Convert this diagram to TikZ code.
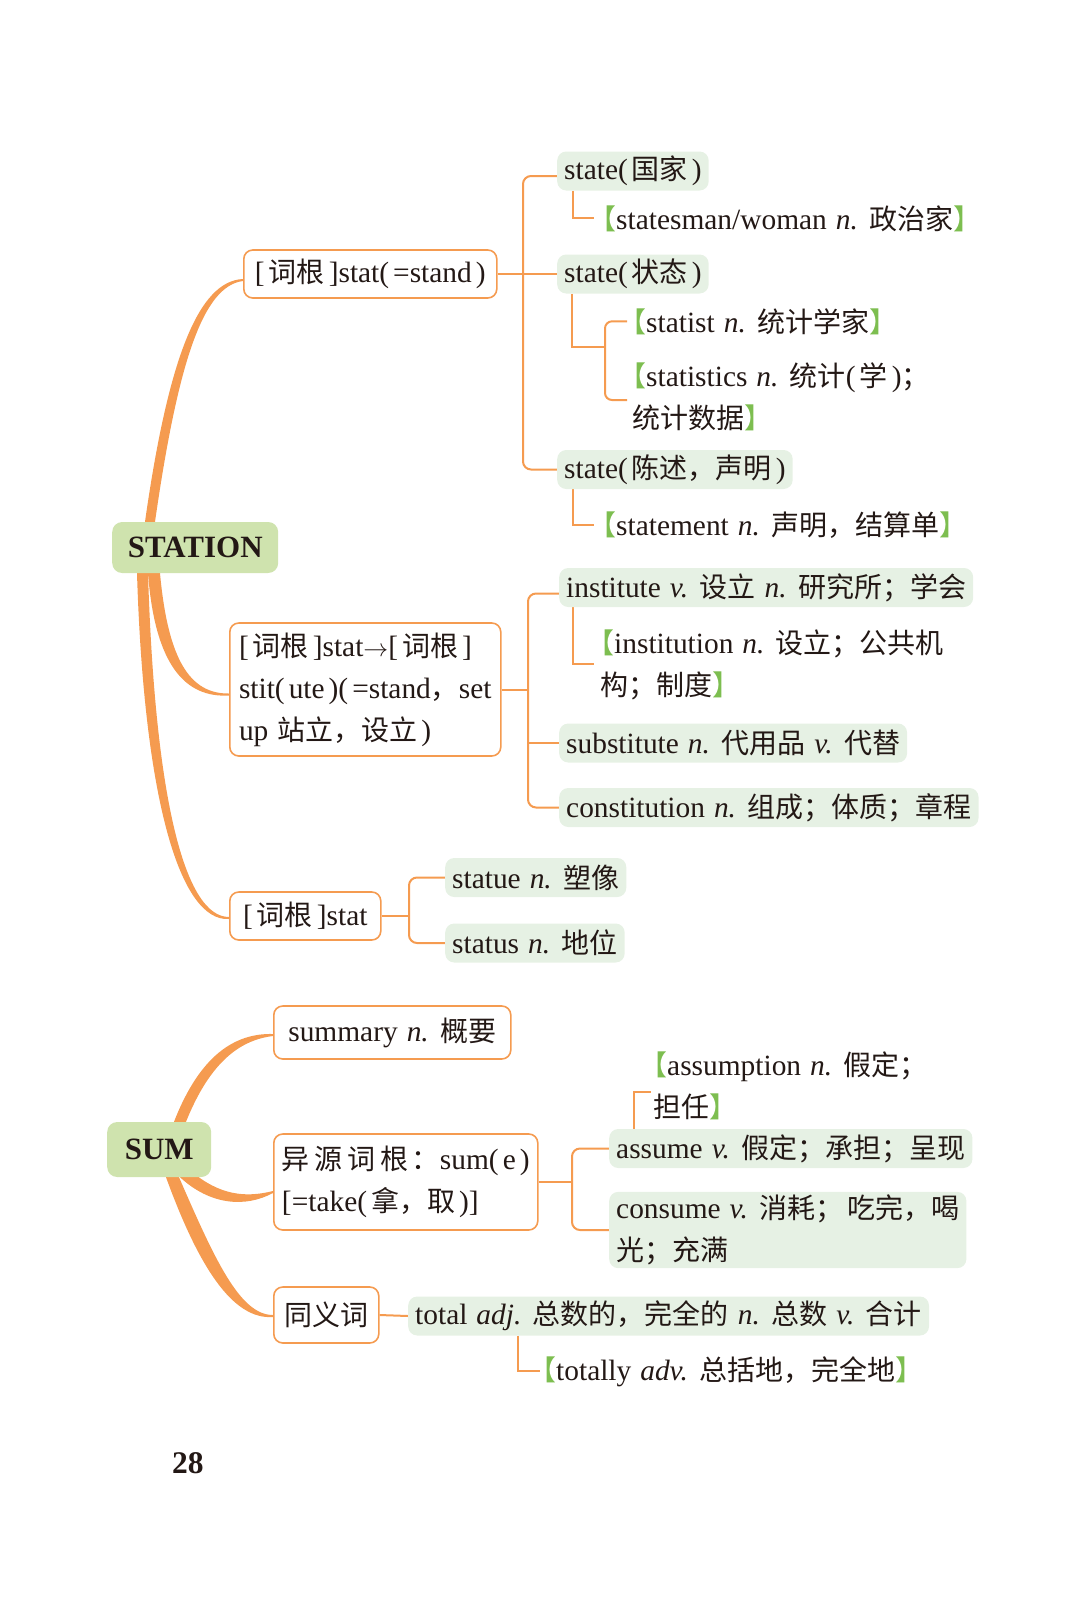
\documentclass[tikz,border=0pt]{standalone}
\usepackage{fontspec}
\setmainfont{Liberation Serif}[Scale=1.05]
\newfontfamily\zhfont{Noto Sans CJK SC}
\usetikzlibrary{backgrounds}

\definecolor{lineorange}{RGB}{245,155,80}
\definecolor{rootgreen}{RGB}{207,227,174}
\definecolor{leafgreen}{RGB}{230,241,228}
\definecolor{brgreen}{RGB}{125,190,80}
\definecolor{inkdark}{RGB}{35,24,21}

\newcommand\zh[1]{{\zhfont #1}}
\newcommand\zlp{(\hspace{4pt}}
\newcommand\zrp{\hspace{4pt})}
\newcommand\glb{\textcolor{brgreen}{\zh{\kern-.5em【}}}
\newcommand\grb{\textcolor{brgreen}{\zh{】}}}
\newcommand\bodyfont{\fontsize{28}{42}\selectfont\spaceskip=9pt plus 2pt minus 1pt}
\newcommand\rootfont{\bfseries\fontsize{29.5}{30}\selectfont}

\tikzset{
  rootbox/.style={fill=rootgreen, rounded corners=10pt, inner sep=0pt, font=\rootfont, anchor=west},
  wordbox/.style={draw=lineorange, line width=1.6pt, fill=white, rounded corners=9pt, inner xsep=7pt, anchor=west, align=left},
  leafbox/.style={fill=leafgreen, rounded corners=9pt, inner xsep=7pt, inner ysep=2pt, minimum height=39pt, anchor=west, align=left},
  note/.style={inner sep=0pt, anchor=base west, align=left},
  link/.style={draw=lineorange, line width=2pt},
  branch/.style={fill=lineorange},
}

\begin{document}
\begin{tikzpicture}[x=1pt,y=-1pt,every node/.style={font=\bodyfont, text=inkdark}]
  \useasboundingbox (0,0) rectangle (1080,1598);

  % roots
  \node[rootbox, minimum width=166pt, minimum height=51pt] (station) at (112,547.5) {STATION};
  \node[rootbox, minimum width=104pt, minimum height=55pt] (sum) at (107,1149.5) {SUM};

  % first level
  \node[wordbox, minimum width=253pt, minimum height=48pt] (statA) at (243,274)
    {[\hspace{4pt}\zh{词根}\hspace{4pt}]stat\zlp=stand\zrp};
  \node[wordbox, minimum width=271pt, minimum height=133pt] (statB) at (229,689.5)
    {[\hspace{4pt}\zh{词根}\hspace{4pt}]stat$\rightarrow$[\hspace{4pt}\zh{词根}\hspace{4pt}]\\
     stit\zlp ute\zrp\zlp=stand\zh{，}set\\ up \zh{站立，设立}\zrp};
  \node[wordbox, minimum width=151pt, minimum height=48pt] (statC) at (229,916)
    {[\hspace{4pt}\zh{词根}\hspace{4pt}]stat};
  \node[wordbox, minimum width=237pt, minimum height=53pt] (summ) at (273,1032.5)
    {summary \textit{n.} \zh{概要}};
  \node[wordbox, minimum width=264pt, minimum height=96pt] (sume) at (273,1182)
    {\zh{异\hspace{5pt}源\hspace{5pt}词\hspace{5pt}根}\hspace{3pt}\zh{：}sum\zlp e\zrp\\ {[}=take\zlp\zh{拿，取}\zrp]};
  \node[wordbox, minimum width=105pt, minimum height=56pt] (syn) at (273,1315) {\zh{同义词}};

  % green leaves
  \node[leafbox] (stA1) at (557,171) {state\zlp\zh{国家}\zrp};
  \node[leafbox] (stA2) at (557,274) {state\zlp\zh{状态}\zrp};
  \node[leafbox] (stA3) at (557,469.5) {state\zlp\zh{陈述，声明}\zrp};
  \node[leafbox] (inst) at (559,587.5) {institute \textit{v.} \zh{设立} \textit{n.} \zh{研究所；学会}};
  \node[leafbox] (subs) at (559,743) {substitute \textit{n.} \zh{代用品} \textit{v.} \zh{代替}};
  \node[leafbox] (cons) at (559,807.5) {constitution \textit{n.} \zh{组成；体质；章程}};
  \node[leafbox] (statue) at (445,877.5) {statue \textit{n.} \zh{塑像}};
  \node[leafbox] (status) at (445,943) {status \textit{n.} \zh{地位}};
  \node[leafbox] (assume) at (609,1148.5) {assume \textit{v.} \zh{假定；承担；呈现}};
  \node[leafbox, inner ysep=3pt] (consume) at (609,1230) {consume \textit{v.} \zh{消耗；}\hspace{4pt}\zh{吃完，喝}\\ \zh{光；充满}};
  \node[leafbox] (total) at (408,1316) {total \textit{adj.} \zh{总数的，完全的} \textit{n.} \zh{总数} \textit{v.} \zh{合计}};

  % derived words (base = last line)
  \node[note] (nA1) at (602,229) {\glb statesman/woman \textit{n.} \zh{政治家}\grb};
  \node[note] (nA2) at (632,332) {\glb statist \textit{n.} \zh{统计学家}\grb};
  \node[note] (nA3) at (632,428) {\glb statistics \textit{n.} \zh{统计}\zlp\zh{学}\zrp\zh{；}\\ \zh{统计数据}\grb};
  \node[note] (nA4) at (602,535) {\glb statement \textit{n.} \zh{声明，结算单}\grb};
  \node[note] (nB1) at (600,695) {\glb institution \textit{n.} \zh{设立；公共机}\\ \zh{构；制度}\grb};
  \node[note] (nD1) at (653,1117) {\glb assumption \textit{n.} \zh{假定；}\\ \zh{担任}\grb};
  \node[note] (nE1) at (542,1380) {\glb totally \textit{adv.} \zh{总括地，完全地}\grb};

  \node[note, font=\bfseries\fontsize{30}{30}\selectfont] (pageno) at (172,1473) {28};

  \begin{pgfonlayer}{background}
    % thick branches
    \fill[branch] ([xshift=33pt]station.north west) .. controls (168,360) and (198,281) .. ([yshift=-5pt]statA.west)
      -- ([yshift=-7pt]statA.west) .. controls (203,286) and (178,362) .. ([xshift=43pt]station.north west) -- cycle;
    \fill[branch] ([xshift=48pt]station.south west) .. controls (168,660) and (190,694) .. ([yshift=-4pt]statB.west)
      -- ([yshift=-6pt]statB.west) .. controls (185,698) and (155,665) .. ([xshift=36pt]station.south west) -- cycle;
    \fill[branch] ([xshift=36pt]station.south west) .. controls (155,800) and (185,917) .. ([yshift=-1pt]statC.west)
      -- ([yshift=-3pt]statC.west) .. controls (180,922) and (144,800) .. ([xshift=25pt]station.south west) -- cycle;
    \fill[branch] ([xshift=67pt]sum.north west) .. controls (200,1055) and (235,1033) .. ([yshift=-1.5pt]summ.west)
      -- ([yshift=-3.5pt]summ.west) .. controls (240,1040) and (210,1062) .. ([xshift=79pt]sum.north west) -- cycle;
    \fill[branch] (192,1172) .. controls (220,1195) and (245,1198) .. ([yshift=-9pt]sume.west)
      -- ([yshift=-11pt]sume.west) .. controls (245,1208) and (210,1205) .. ([xshift=73pt]sum.south west) -- cycle;
    \fill[branch] ([xshift=72pt]sum.south west) .. controls (215,1260) and (240,1315) .. ([yshift=0pt]syn.west)
      -- ([yshift=-2pt]syn.west) .. controls (232,1320) and (198,1265) .. ([xshift=59pt]sum.south west) -- cycle;

    % stat(=stand)
    \coordinate (hubA) at (523,274);
    \draw[link] (statA.east) -- (hubA);
    \draw[link, rounded corners=8pt] ([yshift=-5pt]stA1.west) -| (hubA) |- (stA3.west);
    \draw[link] (hubA) -- (stA2.west);
    \draw[link] ([xshift=16pt]stA1.south west) |- ([xshift=-8pt]nA1.west);
    \coordinate (hubA2) at (605,347);
    \draw[link] ([xshift=15pt]stA2.south west) |- (hubA2);
    \draw[link, rounded corners=7pt] ([xshift=-5pt]nA2.west) -| (hubA2) |- ([xshift=-5pt,yshift=28pt]nA3.base west);
    \draw[link] ([xshift=16pt]stA3.south west) |- ([xshift=-8pt]nA4.west);

    % stit(ute)
    \coordinate (hubB) at (528,689.5);
    \draw[link] (statB.east) -- (hubB);
    \draw[link, rounded corners=8pt] ([yshift=-6pt]inst.west) -| (hubB) |- (cons.west);
    \draw[link] (hubB |- subs.west) -- (subs.west);
    \draw[link] ([xshift=14pt]inst.south west) |- ([xshift=-6pt,yshift=31pt]nB1.base west);

    % stat
    \coordinate (hubC) at (409,916);
    \draw[link] (statC.east) -- (hubC);
    \draw[link, rounded corners=8pt] (statue.west) -| (hubC) |- (status.west);

    % sum(e)
    \coordinate (hubD) at (572,1182);
    \draw[link] (sume.east) -- (hubD);
    \draw[link, rounded corners=8pt] (assume.west) -| (hubD) |- (consume.west);
    \draw[link] ([xshift=25pt]assume.north west) |- ([xshift=-2pt,yshift=25pt]nD1.base west);

    % synonym
    \draw[link] (syn.east) -- (total.west);
    \draw[link] ([xshift=110pt]total.south west) |- ([xshift=-2pt]nE1.west);
  \end{pgfonlayer}
\end{tikzpicture}
\end{document}
